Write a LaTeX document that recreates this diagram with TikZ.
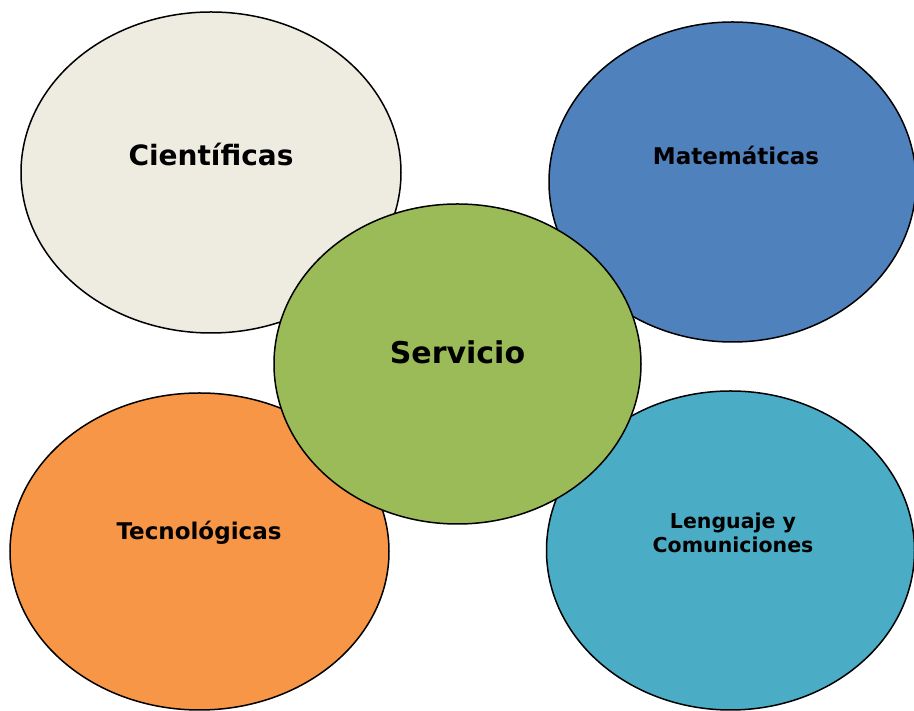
\documentclass[tikz,border=0pt]{standalone}
\usepackage{fontspec}
\setmainfont{DejaVu Sans}
\usetikzlibrary{shapes.geometric}
\definecolor{cien}{HTML}{EEECE1}
\definecolor{mate}{HTML}{4F81BD}
\definecolor{serv}{HTML}{9BBB59}
\definecolor{tecn}{HTML}{F79646}
\definecolor{leng}{HTML}{4BACC6}
\begin{document}
\begin{tikzpicture}[x=1pt,y=1pt,
  blob/.style={ellipse, draw=black, line width=1.5pt, inner sep=0pt},
  lbl/.style={font=\bfseries, text=black, align=center, inner sep=0pt}]
\useasboundingbox (0,0) rectangle (914,711);
\clip (0,0) rectangle (914,711);
\node[blob, fill=cien, minimum width=380pt, minimum height=321pt] (c) at (211,538.5) {};
\node[blob, fill=mate, minimum width=367pt, minimum height=320pt] (m) at (732.5,529) {};
\node[blob, fill=tecn, minimum width=379pt, minimum height=317pt] (t) at (199.5,159.5) {};
\node[blob, fill=leng, minimum width=368pt, minimum height=319pt] (l) at (730.5,160.5) {};
\node[blob, fill=serv, minimum width=367pt, minimum height=320pt] (s) at (457.5,347) {};
\node[lbl, font=\fontsize{28}{33}\selectfont\bfseries] (ct) at (211,556) {Científicas};
\node[lbl, font=\fontsize{23}{27}\selectfont\bfseries] (mt) at (736,556) {Matemáticas};
\node[lbl, font=\fontsize{30}{36}\selectfont\bfseries] (st) at (457.5,359) {Servicio};
\node[lbl, font=\fontsize{23}{28}\selectfont\bfseries] (tt) at (199,178) {Tecnológicas};
\node[lbl, font=\fontsize{20.5}{24.5}\selectfont\bfseries] (lt) at (733,178) {Lenguaje y\\Comuniciones};
\end{tikzpicture}
\end{document}
